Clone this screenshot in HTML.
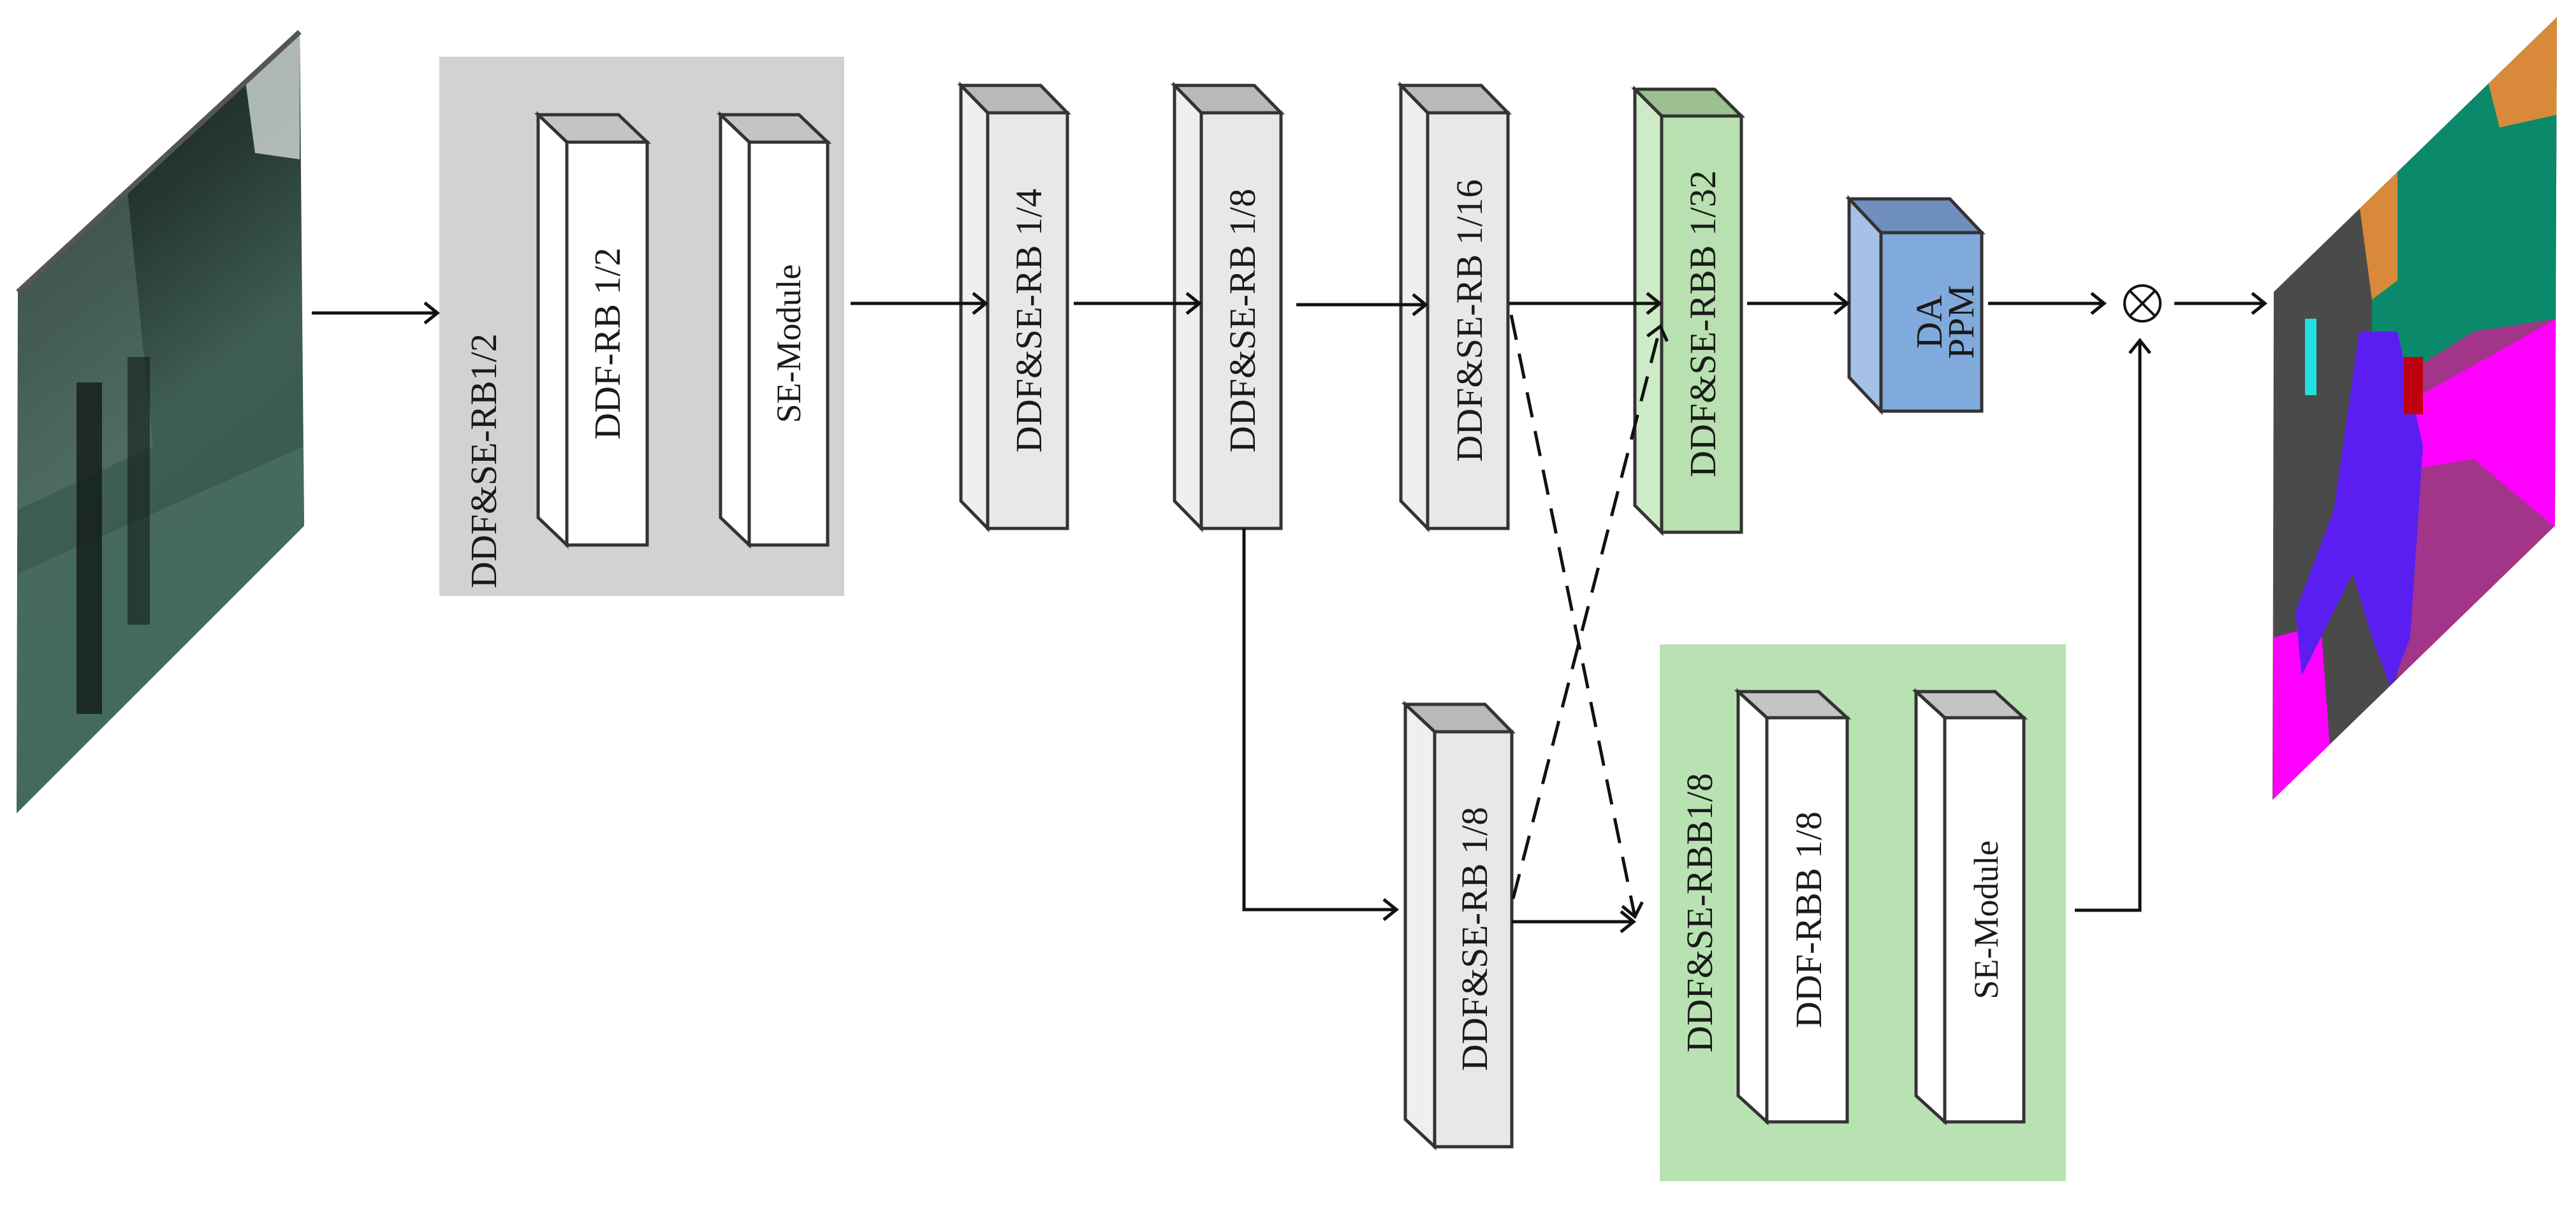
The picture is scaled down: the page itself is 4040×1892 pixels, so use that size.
<!DOCTYPE html>
<html><head><meta charset="utf-8"><style>
html,body{margin:0;padding:0;background:#fff}
svg{display:block}
text{font-family:"Liberation Serif",serif;fill:#1a1a1a}
</style></head><body>
<svg width="4040" height="1892" viewBox="0 0 4040 1892" xmlns="http://www.w3.org/2000/svg">
<defs>
<marker id="ah" markerWidth="30" markerHeight="40" refX="24" refY="20" orient="auto" markerUnits="userSpaceOnUse"><path d="M4,4 L24,20 L4,36" fill="none" stroke="#111" stroke-width="5"/></marker>
<linearGradient id="gin" x1="0" y1="0" x2="0.3" y2="1">
<stop offset="0" stop-color="#17221f"/><stop offset="0.35" stop-color="#24362f"/><stop offset="0.6" stop-color="#3f5e53"/><stop offset="1" stop-color="#35574a"/></linearGradient>
<clipPath id="cin"><polygon points="28,458 470,50 477,825 26,1276"/></clipPath>
<clipPath id="cout"><polygon points="3566,458 4010,27 4007,825 3564,1255"/></clipPath>
</defs>

<g clip-path="url(#cin)">
<rect x="0" y="0" width="500" height="1300" fill="url(#gin)"/>
<polygon points="28,458 200,300 240,700 28,800" fill="#5d7a70" opacity="0.5"/>
<polygon points="380,90 470,50 470,250 400,240" fill="#e8f0ee" opacity="0.7"/>
<polygon points="28,900 477,700 477,825 26,1276" fill="#4a7262" opacity="0.7"/>
<rect x="120" y="600" width="40" height="520" fill="#111a17" opacity="0.8"/>
<rect x="200" y="560" width="35" height="420" fill="#111a17" opacity="0.6"/>
</g>
<line x1="28" y1="458" x2="470" y2="50" stroke="#555" stroke-width="8"/>

<g clip-path="url(#cout)">
<rect x="3560" y="0" width="460" height="1300" fill="#a2358a"/>
<polygon points="3566,458 3760,270 3760,1200 3566,1255" fill="#4a4a4a"/>
<polygon points="3720,300 4010,20 4010,500 3880,520 3720,620" fill="#0a8a6a"/>
<polygon points="3700,320 3760,260 3760,440 3720,470" fill="#d88a3a"/>
<polygon points="3900,120 4010,20 4010,180 3920,200" fill="#d88a3a"/>
<polygon points="3760,640 4010,500 4010,830 3880,720 3760,740" fill="#ff00ff"/>
<polygon points="3566,1000 3640,980 3660,1255 3566,1255" fill="#ff00ff"/>
<path d="M3700,520 L3760,520 L3800,700 L3780,1000 L3750,1080 L3720,1000 L3690,900 L3640,1000 L3610,1060 L3600,960 L3660,800 Z" fill="#5a1ff0"/>
<rect x="3770" y="560" width="30" height="90" fill="#c00010"/>
<rect x="3615" y="500" width="18" height="120" fill="#20e0e0"/>
</g>

<rect x="689" y="89" width="635" height="846" fill="#d4d1d1"/>
<text transform="translate(778,723) rotate(-90)" font-size="58" text-anchor="middle">DDF&amp;SE-RB1/2</text>

<rect x="2603" y="1011" width="637" height="842" fill="#b9e2b3"/>
<text transform="translate(2685,1432) rotate(-90)" font-size="58" text-anchor="middle">DDF&amp;SE-RBB1/8</text>

<g stroke="#333" stroke-width="5" stroke-linejoin="miter">
<polygon points="844,180 970,180 1015,223 889,223" fill="#c4c4c4"/>
<polygon points="844,180 889,223 889,855 844,812" fill="#fff"/>
<rect x="889" y="223" width="126" height="632" fill="#fff"/>
<polygon points="1130,180 1253,180 1298,223 1175,223" fill="#c4c4c4"/>
<polygon points="1130,180 1175,223 1175,855 1130,812" fill="#fff"/>
<rect x="1175" y="223" width="123" height="632" fill="#fff"/>
<polygon points="1507,134 1632,134 1674,177 1549,177" fill="#b9b9b9"/>
<polygon points="1507,134 1549,177 1549,829 1507,786" fill="#efefef"/>
<rect x="1549" y="177" width="125" height="652" fill="#e8e8e8"/>
<polygon points="1842,134 1967,134 2009,177 1884,177" fill="#b9b9b9"/>
<polygon points="1842,134 1884,177 1884,829 1842,786" fill="#efefef"/>
<rect x="1884" y="177" width="125" height="652" fill="#e8e8e8"/>
<polygon points="2197,134 2323,134 2365,177 2239,177" fill="#b9b9b9"/>
<polygon points="2197,134 2239,177 2239,829 2197,786" fill="#efefef"/>
<rect x="2239" y="177" width="126" height="652" fill="#e8e8e8"/>
<polygon points="2564,140 2689,140 2731,182 2606,182" fill="#9cbf90"/>
<polygon points="2564,140 2606,182 2606,835 2564,793" fill="#cdebc6"/>
<rect x="2606" y="182" width="125" height="653" fill="#b9e0b0"/>
<polygon points="2900,312 3058,312 3108,365 2950,365" fill="#6f8fbf"/>
<polygon points="2900,312 2950,365 2950,645 2900,592" fill="#a6c1e6"/>
<rect x="2950" y="365" width="158" height="280" fill="#80aadc"/>
<polygon points="2204,1105 2329,1105 2371,1148 2250,1148" fill="#b9b9b9"/>
<polygon points="2204,1105 2250,1148 2250,1799 2204,1756" fill="#efefef"/>
<rect x="2250" y="1148" width="121" height="651" fill="#e8e8e8"/>
<polygon points="2726,1085 2852,1085 2897,1126 2771,1126" fill="#c4c4c4"/>
<polygon points="2726,1085 2771,1126 2771,1760 2726,1719" fill="#fff"/>
<rect x="2771" y="1126" width="126" height="634" fill="#fff"/>
<polygon points="3005,1085 3129,1085 3174,1126 3050,1126" fill="#c4c4c4"/>
<polygon points="3005,1085 3050,1126 3050,1760 3005,1719" fill="#fff"/>
<rect x="3050" y="1126" width="124" height="634" fill="#fff"/>
</g>

<text transform="translate(972,539) rotate(-90)" font-size="58" text-anchor="middle">DDF-RB 1/2</text>
<text transform="translate(1255,539) rotate(-90)" font-size="54" text-anchor="middle">SE-Module</text>
<text transform="translate(1633,503) rotate(-90)" font-size="58" text-anchor="middle">DDF&amp;SE-RB 1/4</text>
<text transform="translate(1968,503) rotate(-90)" font-size="58" text-anchor="middle">DDF&amp;SE-RB 1/8</text>
<text transform="translate(2324,503) rotate(-90)" font-size="58" text-anchor="middle">DDF&amp;SE-RB 1/16</text>
<text transform="translate(2690,508) rotate(-90)" font-size="58" text-anchor="middle">DDF&amp;SE-RBB 1/32</text>
<text transform="translate(3045,505) rotate(-90)" font-size="58" text-anchor="middle">DA</text>
<text transform="translate(3095,505) rotate(-90)" font-size="58" text-anchor="middle">PPM</text>
<text transform="translate(2332,1473) rotate(-90)" font-size="58" text-anchor="middle">DDF&amp;SE-RB 1/8</text>
<text transform="translate(2856,1443) rotate(-90)" font-size="58" text-anchor="middle">DDF-RBB 1/8</text>
<text transform="translate(3133,1443) rotate(-90)" font-size="54" text-anchor="middle">SE-Module</text>

<g stroke="#111" stroke-width="5" fill="none">
<line x1="489" y1="491" x2="686" y2="491" marker-end="url(#ah)"/>
<line x1="1334" y1="476" x2="1546" y2="476" marker-end="url(#ah)"/>
<line x1="1684" y1="476" x2="1881" y2="476" marker-end="url(#ah)"/>
<line x1="2033" y1="478" x2="2236" y2="478" marker-end="url(#ah)"/>
<line x1="2367" y1="476" x2="2603" y2="476" marker-end="url(#ah)"/>
<line x1="2740" y1="476" x2="2897" y2="476" marker-end="url(#ah)"/>
<line x1="3118" y1="476" x2="3300" y2="476" marker-end="url(#ah)"/>
<line x1="3410" y1="476" x2="3552" y2="476" marker-end="url(#ah)"/>
<polyline points="1951,829 1951,1427 2190,1427" marker-end="url(#ah)"/>
<line x1="2371" y1="1446" x2="2562" y2="1446" marker-end="url(#ah)"/>
<polyline points="3254,1428 3356,1428 3356,534" marker-end="url(#ah)"/>
<line x1="2370" y1="494" x2="2564" y2="1438" stroke-dasharray="40,22" marker-end="url(#ah)"/>
<line x1="2373" y1="1410" x2="2604" y2="512" stroke-dasharray="40,22" marker-end="url(#ah)"/>
</g>
<g stroke="#111" stroke-width="4" fill="#fff">
<ellipse cx="3360" cy="476" rx="28" ry="28"/>
<line x1="3340" y1="456" x2="3380" y2="496"/>
<line x1="3380" y1="456" x2="3340" y2="496"/>
</g>
</svg>
</body></html>
